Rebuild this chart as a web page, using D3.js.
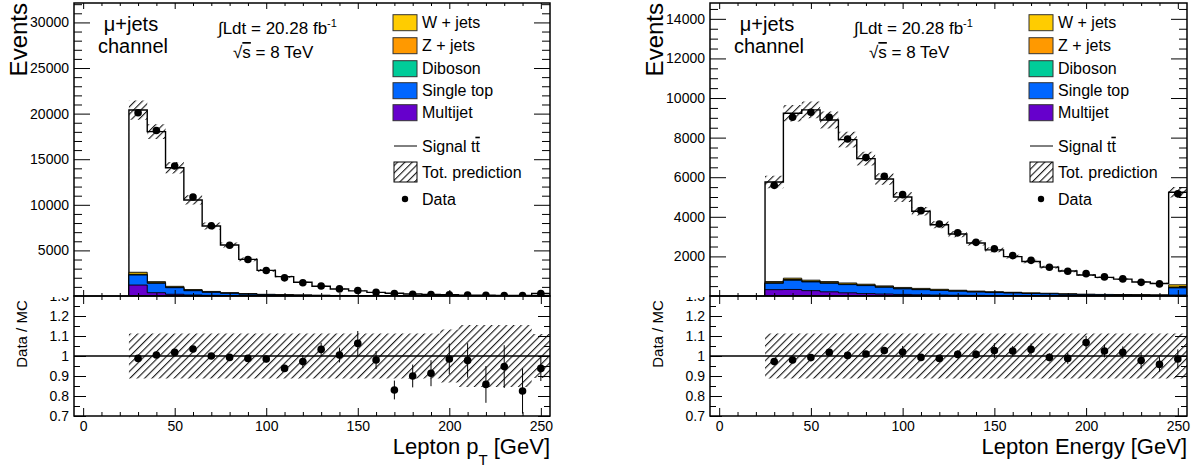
<!DOCTYPE html>
<html><head><meta charset="utf-8">
<script src="https://cdn.jsdelivr.net/npm/d3@7"></script>
<style>
body{margin:0;background:#fff}
svg{display:block}
text{font-family:"Liberation Sans",Arial,Helvetica,sans-serif;fill:#000}
</style>
</head><body>
<svg id="c" width="1198" height="468"></svg>
<script>
// ---------------- data ----------------
const binCenters = [30,40,50,60,70,80,90,100,110,120,130,140,150,160,170,180,190,200,210,220,230,240,250];
const xTicks = [0,50,100,150,200,250];
const ptYTicks = [5000,10000,15000,20000,25000,30000];
const eYTicks = [2000,4000,6000,8000,10000,12000,14000];
const ratioTicks = [0.7,0.8,0.9,1.0,1.1,1.2,1.3];

// Lepton pT
const ptData      = [20100,18150,14250,10850,7700,5560,4000,2800,1990,1460,1100,780,600,395,255,200,160,128,98,78,60,48,260];
const ptPred      = [20390,18020,14070,10530,7680,5590,4020,2810,2120,1500,1070,775,565,400,305,222,175,130,100,90,63,58,280];
const ptMultijet  = [1200,360,190,110,70,50,40,30,22,16,12,9,7,5,4,3,3,2,2,1,1,1,8];
const ptSingleTop = [1100,1030,720,470,330,240,160,110,80,60,45,33,25,18,14,11,8,6,5,4,3,3,20];
const ptDiboson   = [25,18,12,9,7,5,4,3,2,2,2,1,1,1,1,1,1,1,1,0,0,0,2];
const ptZjets     = [60,40,28,20,14,10,7,5,4,3,2,2,1,1,1,1,1,1,0,0,0,0,3];
const ptWjets     = [215,125,110,100,80,62,48,38,28,22,17,13,10,8,6,5,4,3,2,2,1,1,10];
const ptPredUnc   = [0.052,0.045,0.045,0.048,0.05,0.05,0.05,0.05,0.05,0.05,0.05,0.05,0.05,0.05,0.05,0.05,0.05,0.055,0.06,0.06,0.06,0.06,0.055];
const ptRatio     = [0.988,1.005,1.018,1.035,1.0,0.993,0.988,0.985,0.938,0.972,1.033,1.005,1.063,0.98,0.83,0.90,0.914,0.985,0.978,0.858,0.947,0.825,0.938];
const ptRatioErr  = [0.008,0.008,0.01,0.012,0.012,0.014,0.015,0.017,0.018,0.033,0.033,0.037,0.062,0.045,0.047,0.057,0.065,0.077,0.086,0.092,0.107,0.113,0.063];
const ptRatioBand = [0.112,0.112,0.112,0.112,0.112,0.112,0.112,0.112,0.112,0.112,0.112,0.112,0.112,0.112,0.112,0.112,0.112,0.133,0.155,0.155,0.155,0.155,0.11];

// Lepton energy
const eData      = [5590,9030,9280,9030,7930,6990,6050,5120,4310,3640,3190,2710,2390,2040,1800,1450,1250,1130,965,865,690,610,5160];
const ePred      = [5760,9230,9400,8890,7900,6940,5910,5000,4280,3600,3130,2680,2330,1990,1740,1460,1265,1060,940,850,705,635,5240];
const eMultijet  = [320,330,270,210,160,120,100,80,60,50,40,32,26,21,17,14,11,9,7,6,5,4,50];
const eSingleTop = [320,465,440,430,415,405,340,280,260,230,200,168,149,129,108,96,74,61,53,44,40,34,360];
const eDiboson   = [8,10,9,8,7,6,6,5,4,4,3,3,3,2,2,2,2,1,1,1,1,1,15];
const eZjets     = [22,25,20,20,18,16,14,12,10,9,8,7,6,5,5,4,3,3,2,2,2,1,30];
const eWjets     = [60,70,60,60,58,48,50,55,50,45,39,38,34,31,27,23,20,19,16,15,12,10,110];
const ePredUnc   = [0.055,0.045,0.045,0.048,0.05,0.05,0.05,0.05,0.05,0.05,0.05,0.05,0.05,0.05,0.05,0.05,0.05,0.05,0.05,0.05,0.05,0.05,0.05];
const eRatio     = [0.972,0.98,0.992,1.018,1.003,1.01,1.027,1.02,0.993,0.988,1.008,1.008,1.027,1.025,1.033,0.993,0.988,1.067,1.025,1.018,0.977,0.958,0.985];
const eRatioErr  = [0.008,0.008,0.009,0.01,0.01,0.012,0.013,0.03,0.015,0.018,0.02,0.02,0.037,0.025,0.03,0.02,0.027,0.033,0.032,0.03,0.04,0.036,0.048];
const eRatioBand = [0.112,0.112,0.112,0.112,0.112,0.112,0.112,0.112,0.112,0.112,0.112,0.112,0.112,0.112,0.112,0.112,0.112,0.112,0.112,0.112,0.112,0.112,0.112];

const legendNames  = ["W + jets","Z + jets","Diboson","Single top","Multijet"];
const legendColors = ["#ffcc00","#ff9900","#00cc99","#0066ff","#6600cc"];

// ---------------- drawing ----------------
const svg = d3.select("#c");
const defs = svg.append("defs");
const pat = defs.append("pattern").attr("id","hatch").attr("patternUnits","userSpaceOnUse")
  .attr("width",5.2).attr("height",10).attr("patternTransform","rotate(45)");
pat.append("line").attr("x1",0.6).attr("y1",0).attr("x2",0.6).attr("y2",10)
  .attr("stroke","#000").attr("stroke-width",1);

const TOP_Y0 = 3, TOP_Y1 = 296, RAT_Y1 = 416;
const FONT = '"Liberation Sans",Arial,Helvetica,sans-serif';

const panels = [
  {id:"pt", L:74, R:550, yMax:32130, yTicks:ptYTicks, yMinor:1000,
   data:ptData, pred:ptPred, comps:[ptMultijet,ptSingleTop,ptDiboson,ptZjets,ptWjets], unc:ptPredUnc,
   ratio:ptRatio, ratioErr:ptRatioErr, band:ptRatioBand, title:"pt"},
  {id:"e", L:710, R:1187, yMax:14800, yTicks:eYTicks, yMinor:500,
   data:eData, pred:ePred, comps:[eMultijet,eSingleTop,eDiboson,eZjets,eWjets], unc:ePredUnc,
   ratio:eRatio, ratioErr:eRatioErr, band:eRatioBand, title:"e"}
];
const compColors = ["#6600cc","#0066ff","#00cc99","#ff9900","#ffcc00"]; // bottom -> top

function styleAxis(g, size){
  g.select(".domain").remove();
  g.attr("font-family",FONT).attr("font-size",size);
  g.selectAll(".tick line").attr("stroke","#000").attr("stroke-width",1);
  g.selectAll(".tick text").attr("fill","#000");
}

// clip for ratio labels (keeps only the lower half of "1.3")
defs.append("clipPath").attr("id","clipLab").append("rect")
  .attr("x",0).attr("y",TOP_Y1+1).attr("width",1198).attr("height",468-TOP_Y1);

panels.forEach((p,pi)=>{
  const x = d3.scaleLinear().domain([-5,255]).range([p.L,p.R]);
  const y = d3.scaleLinear().domain([0,p.yMax]).range([TOP_Y1,TOP_Y0]);
  const yr = d3.scaleLinear().domain([0.7,1.3]).range([RAT_Y1,TOP_Y1]);

  const clipTop = "clipTop"+pi, clipRat = "clipRat"+pi;
  defs.append("clipPath").attr("id",clipTop).append("rect")
    .attr("x",p.L).attr("y",TOP_Y0).attr("width",p.R-p.L).attr("height",TOP_Y1-TOP_Y0);
  defs.append("clipPath").attr("id",clipRat).append("rect")
    .attr("x",p.L).attr("y",TOP_Y1).attr("width",p.R-p.L).attr("height",RAT_Y1-TOP_Y1);

  const stepPts = (vals) => {
    const pts = [];
    binCenters.forEach((c,i)=>{ pts.push([c-5, vals[i]]); pts.push([c+5, vals[i]]); });
    return pts;
  };
  const area = d3.area().x(d=>x(d[0])).y0(y(0)).y1(d=>y(d[1]));

  const gTop = svg.append("g").attr("clip-path",`url(#${clipTop})`);

  gTop.append("path").attr("d",area(stepPts(p.pred)))
    .attr("fill","#fff").attr("stroke","#000").attr("stroke-width",1.4);

  const cums = [];
  let run = binCenters.map(()=>0);
  p.comps.forEach(c=>{ run = run.map((v,i)=>v+c[i]); cums.push(run.slice()); });
  for (let k = cums.length-1; k>=0; k--) {
    gTop.append("path").attr("d",area(stepPts(cums[k])))
      .attr("fill",compColors[k]).attr("stroke","#000").attr("stroke-width",0.9);
  }

  const band = d3.area().x(d=>x(d[0])).y0(d=>y(d[1])).y1(d=>y(d[2]));
  const bPts = [];
  binCenters.forEach((c,i)=>{
    const lo = p.pred[i]*(1-p.unc[i]), hi = p.pred[i]*(1+p.unc[i]);
    bPts.push([c-5,lo,hi]); bPts.push([c+5,lo,hi]);
  });
  gTop.append("path").attr("d",band(bPts)).attr("fill","url(#hatch)");

  gTop.selectAll("circle.d").data(p.data).join("circle")
    .attr("cx",(d,i)=>x(binCenters[i])).attr("cy",d=>y(d)).attr("r",3.8).attr("fill","#000");

  // ---------- ratio panel ----------
  const gRat = svg.append("g").attr("clip-path",`url(#${clipRat})`);
  const rPts = [];
  binCenters.forEach((c,i)=>{ rPts.push([c-5,1-p.band[i],1+p.band[i]]); rPts.push([c+5,1-p.band[i],1+p.band[i]]); });
  gRat.append("path").attr("d",d3.area().x(d=>x(d[0])).y0(d=>yr(d[1])).y1(d=>yr(d[2]))(rPts))
    .attr("fill","url(#hatch)");
  gRat.append("line").attr("x1",p.L).attr("x2",p.R).attr("y1",yr(1)).attr("y2",yr(1))
    .attr("stroke","#000").attr("stroke-width",1.5);
  gRat.selectAll("line.err").data(p.ratio).join("line")
    .attr("x1",(d,i)=>x(binCenters[i])).attr("x2",(d,i)=>x(binCenters[i]))
    .attr("y1",(d,i)=>yr(d-p.ratioErr[i])).attr("y2",(d,i)=>yr(d+p.ratioErr[i]))
    .attr("stroke","#000").attr("stroke-width",1);
  gRat.selectAll("circle.r").data(p.ratio).join("circle")
    .attr("cx",(d,i)=>x(binCenters[i])).attr("cy",d=>yr(d)).attr("r",3.8).attr("fill","#000");

  // ---------- axes ----------
  const majorY = p.yTicks;
  const minorY = d3.range(p.yMinor, p.yMax, p.yMinor).filter(v=>!majorY.includes(v));
  svg.append("g").attr("transform",`translate(${p.L},0)`)
    .call(d3.axisLeft(y).tickValues(majorY).tickSize(-16).tickPadding(5).tickFormat(d3.format("d")))
    .call(g=>styleAxis(g,14));
  svg.append("g").attr("transform",`translate(${p.L},0)`)
    .call(d3.axisLeft(y).tickValues(minorY).tickSize(-8).tickFormat(""))
    .call(g=>styleAxis(g,14));
  svg.append("g").attr("transform",`translate(${p.R},0)`)
    .call(d3.axisRight(y).tickValues(majorY).tickSize(-16).tickFormat(""))
    .call(g=>styleAxis(g,14));
  svg.append("g").attr("transform",`translate(${p.R},0)`)
    .call(d3.axisRight(y).tickValues(minorY).tickSize(-8).tickFormat(""))
    .call(g=>styleAxis(g,14));

  const minorX = d3.range(0,256,10).filter(v=>!xTicks.includes(v));
  [[d3.axisBottom,TOP_Y1,6,3],[d3.axisTop,TOP_Y0,6,3]].forEach(([ax,yy,maj,mn])=>{
    svg.append("g").attr("transform",`translate(0,${yy})`)
      .call(ax(x).tickValues(xTicks).tickSize(-maj).tickFormat("")).call(g=>styleAxis(g,14));
    svg.append("g").attr("transform",`translate(0,${yy})`)
      .call(ax(x).tickValues(minorX).tickSize(-mn).tickFormat("")).call(g=>styleAxis(g,14));
  });
  svg.append("g").attr("transform",`translate(0,${RAT_Y1})`)
    .call(d3.axisBottom(x).tickValues(xTicks).tickSize(-8).tickPadding(5).tickFormat(d3.format("d")))
    .call(g=>styleAxis(g,14));
  svg.append("g").attr("transform",`translate(0,${RAT_Y1})`)
    .call(d3.axisBottom(x).tickValues(minorX).tickSize(-4).tickFormat("")).call(g=>styleAxis(g,14));
  svg.append("g").attr("transform",`translate(0,${TOP_Y1})`)
    .call(d3.axisTop(x).tickValues(xTicks).tickSize(-8).tickFormat("")).call(g=>styleAxis(g,14));
  svg.append("g").attr("transform",`translate(0,${TOP_Y1})`)
    .call(d3.axisTop(x).tickValues(minorX).tickSize(-4).tickFormat("")).call(g=>styleAxis(g,14));

  // ratio y ticks (wrapper group carries the clip, inner group the transform)
  const rMinor = [0.75,0.85,0.95,1.05,1.15,1.25];
  svg.append("g").attr("clip-path","url(#clipLab)").append("g").attr("transform",`translate(${p.L},0)`)
    .call(d3.axisLeft(yr).tickValues(ratioTicks).tickSize(-12).tickPadding(5)
      .tickFormat(d=> d===1 ? "1" : d3.format(".1f")(d)))
    .call(g=>styleAxis(g,14));
  svg.append("g").attr("transform",`translate(${p.L},0)`)
    .call(d3.axisLeft(yr).tickValues(rMinor).tickSize(-6).tickFormat("")).call(g=>styleAxis(g,14));
  svg.append("g").attr("transform",`translate(${p.R},0)`)
    .call(d3.axisRight(yr).tickValues(ratioTicks).tickSize(-12).tickFormat("")).call(g=>styleAxis(g,14));
  svg.append("g").attr("transform",`translate(${p.R},0)`)
    .call(d3.axisRight(yr).tickValues(rMinor).tickSize(-6).tickFormat("")).call(g=>styleAxis(g,14));

  // frames
  svg.append("rect").attr("x",p.L).attr("y",TOP_Y0).attr("width",p.R-p.L).attr("height",TOP_Y1-TOP_Y0)
    .attr("fill","none").attr("stroke","#000").attr("stroke-width",1.5);
  svg.append("rect").attr("x",p.L).attr("y",TOP_Y1).attr("width",p.R-p.L).attr("height",RAT_Y1-TOP_Y1)
    .attr("fill","none").attr("stroke","#000").attr("stroke-width",1.5);

  // axis titles
  svg.append("text").attr("transform",`translate(${p.L-47},3) rotate(-90)`)
    .attr("text-anchor","end").attr("font-size",24).text("Events");
  svg.append("text").attr("transform",`translate(${p.L-47},334) rotate(-90)`)
    .attr("text-anchor","middle").attr("font-size",15).text("Data / MC");
  const xt = svg.append("text").attr("x",p.R).attr("y",454).attr("text-anchor","end").attr("font-size",22);
  if (p.title==="pt") {
    xt.append("tspan").text("Lepton p");
    xt.append("tspan").attr("dy",11).attr("font-size",15).text("T");
    xt.append("tspan").attr("dy",-11).text(" [GeV]");
  } else {
    xt.text("Lepton Energy [GeV]");
  }

  // labels
  svg.append("text").attr("x",p.L+57).attr("y",31).attr("text-anchor","middle").attr("font-size",20).text("\u03bc+jets");
  svg.append("text").attr("x",p.L+59).attr("y",53).attr("text-anchor","middle").attr("font-size",20).text("channel");
  const lum = svg.append("text").attr("x",p.L+144).attr("y",34).attr("font-size",17);
  lum.append("tspan").text("\u222bLdt = 20.28 fb");
  lum.append("tspan").attr("dy",-7).attr("font-size",11).text("-1");
  const rs = svg.append("text").attr("x",p.L+159).attr("y",58).attr("font-size",17);
  rs.append("tspan").text("\u221a");
  rs.append("tspan").attr("text-decoration","overline").text("s");
  rs.append("tspan").text(" = 8 TeV");

  // legend
  const lx = p.L+319, tx = p.L+348;
  const rows = [22.7,45.7,68.7,90.7,112.7];
  legendNames.forEach((n,i)=>{
    svg.append("rect").attr("x",lx).attr("y",rows[i]-8).attr("width",24).attr("height",16)
      .attr("fill",legendColors[i]).attr("stroke","#333").attr("stroke-width",1);
    svg.append("text").attr("x",tx).attr("y",rows[i]+5.7).attr("font-size",16).text(n);
  });
  svg.append("line").attr("x1",lx+1).attr("x2",lx+24).attr("y1",146).attr("y2",146).attr("stroke","#000").attr("stroke-width",1);
  const sg = svg.append("text").attr("x",tx).attr("y",151.7).attr("font-size",16);
  sg.append("tspan").text("Signal t");
  sg.append("tspan").attr("text-decoration","overline").text("t");
  svg.append("rect").attr("x",lx+1).attr("y",162).attr("width",23).attr("height",20)
    .attr("fill","url(#hatch)").attr("stroke","#000").attr("stroke-width",1);
  svg.append("text").attr("x",tx).attr("y",177.7).attr("font-size",16).text("Tot. prediction");
  svg.append("circle").attr("cx",lx+12).attr("cy",199).attr("r",3.2).attr("fill","#000");
  svg.append("text").attr("x",tx).attr("y",204.7).attr("font-size",16).text("Data");
});
</script>
</body></html>
